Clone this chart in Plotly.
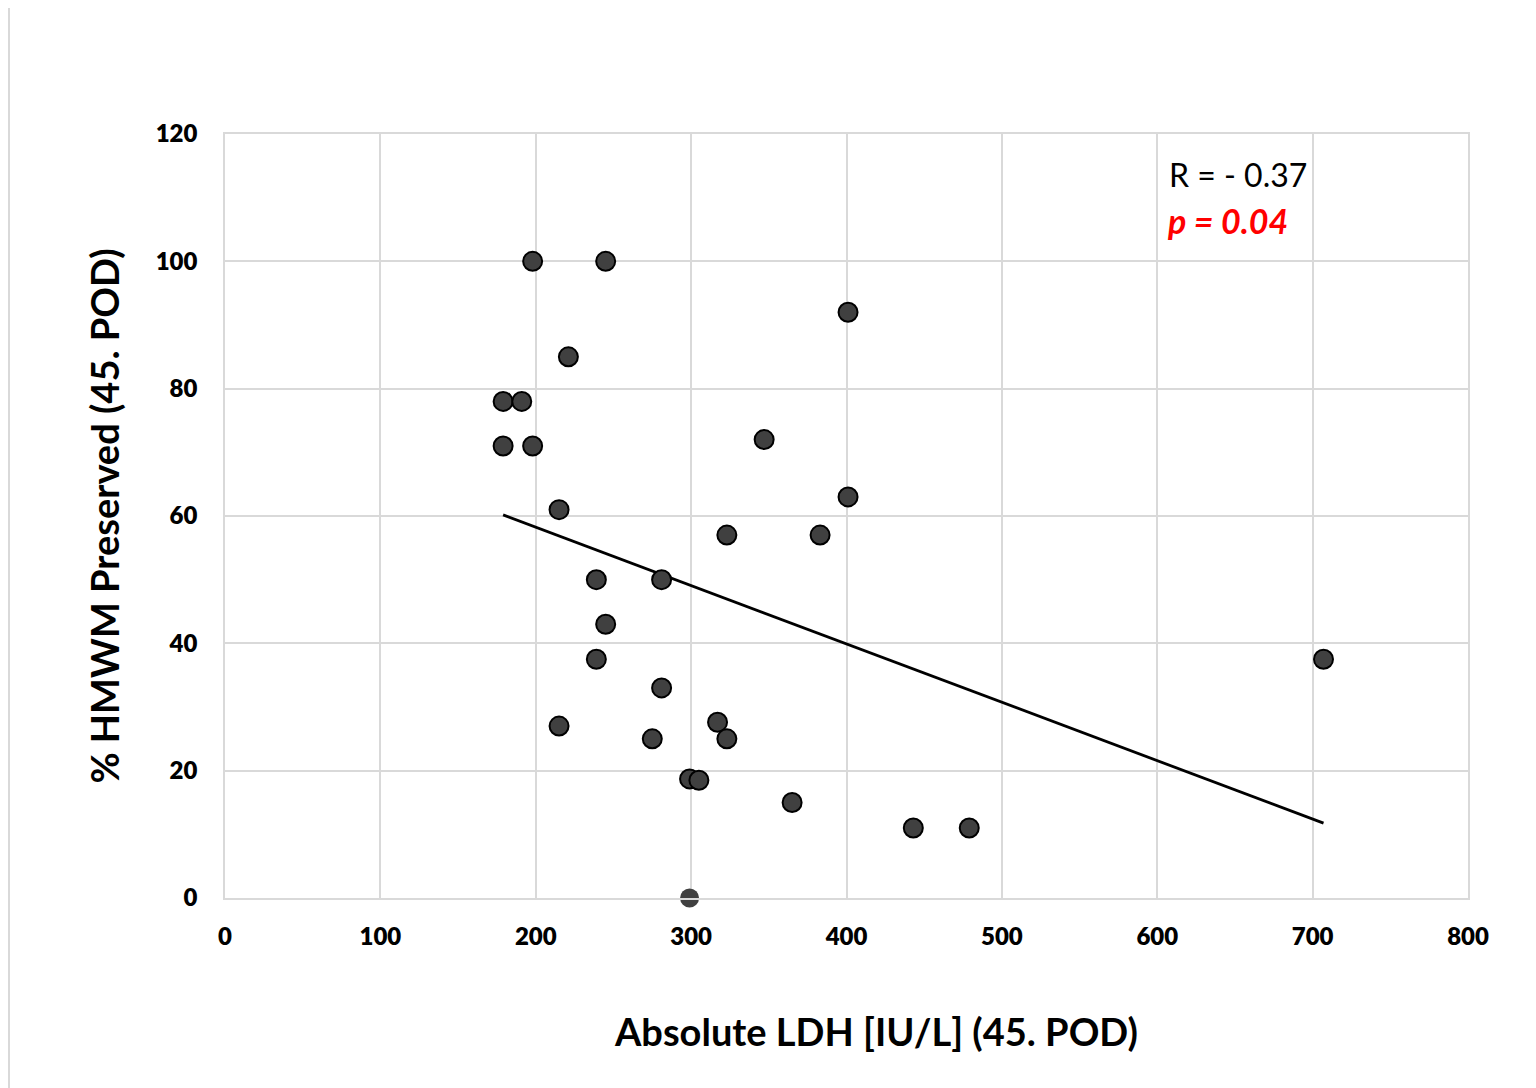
import numpy as np
import plotly.graph_objects as go

# Data
ldh = [198, 245, 401, 221, 179, 191, 179, 198, 347, 401, 215, 323, 383, 239, 281,
       245, 239, 707, 281, 215, 317, 275, 323, 299, 305, 365, 443, 479]
hmwm = [100, 100, 92, 85, 78, 78, 71, 71, 72, 63, 61, 57, 57, 50, 50,
        43, 37.5, 37.5, 33, 27, 27.6, 25, 25, 18.7, 18.5, 15, 11, 11]
# separate point drawn without outline
ldh_extra = [299]
hmwm_extra = [0]

x_ticks = [0, 100, 200, 300, 400, 500, 600, 700, 800]
y_ticks = [0, 20, 40, 60, 80, 100, 120]

r_text = "R = - 0.37"
p_text = "p = 0.04"

# Linear trend line over the data range (all points)
xa = np.array(ldh + ldh_extra, dtype=float)
ya = np.array(hmwm + hmwm_extra, dtype=float)
slope, intercept = np.polyfit(xa, ya, 1)
tx = np.array([xa.min(), xa.max()])
ty = slope * tx + intercept

FONT = "Lato"

# page offset (body margin) compensation
OFF = 8
W, H = 1536, 1088
L, R, T, B = 225 - OFF, W - 1468 + OFF, 134 - OFF, H - 898 + OFF
PW, PH = 1468 - 225, 898 - 134

fig = go.Figure()
fig.add_trace(go.Scatter(x=tx, y=ty, mode="lines",
                         line=dict(color="black", width=2.8),
                         hoverinfo="skip", showlegend=False))
fig.add_trace(go.Scatter(x=ldh, y=hmwm, mode="markers",
                         marker=dict(size=19, color="#404040",
                                     line=dict(color="black", width=2)),
                         showlegend=False))
fig.add_trace(go.Scatter(x=ldh_extra, y=hmwm_extra, mode="markers",
                         marker=dict(size=19, color="#404040",
                                     line=dict(width=0)),
                         showlegend=False, cliponaxis=False))

fig.update_layout(
    width=W, height=H,
    margin=dict(l=L, r=R, t=T, b=B),
    paper_bgcolor="white", plot_bgcolor="white",
    font=dict(family=FONT, color="black"),
    xaxis=dict(range=[0, 800], tickvals=x_ticks, showgrid=True,
               gridcolor="#d9d9d9", gridwidth=1.5, zeroline=False,
               showline=True, linecolor="#d9d9d9", linewidth=1.5, mirror=True,
               ticks="", tickfont=dict(size=24, family=FONT, color="black", weight=800),
               ticklabelstandoff=16),
    yaxis=dict(range=[0, 120], tickvals=y_ticks, showgrid=True,
               gridcolor="#d9d9d9", gridwidth=1.5, zeroline=False,
               showline=True, linecolor="#d9d9d9", linewidth=1.5, mirror=True,
               ticks="", tickfont=dict(size=24, family=FONT, color="black", weight=800),
               ticklabelstandoff=21,
               title=dict(text="<b>% HMWM Preserved (45. POD)</b>",
                          font=dict(size=38, family=FONT, color="black"),
                          standoff=24)),
)

fig.add_annotation(xref="paper", yref="paper", x=(876 - 225) / PW, y=(898 - 1031) / PH,
                   text="<b>Absolute LDH [IU/L] (45. POD)</b>", showarrow=False,
                   font=dict(size=38, family=FONT, color="black"),
                   xanchor="center", yanchor="middle")
fig.add_annotation(xref="x", yref="y", x=606, y=113.6, text=r_text, showarrow=False,
                   font=dict(size=32, family=FONT, color="black"),
                   xanchor="left", yanchor="middle")
fig.add_annotation(xref="x", yref="y", x=605, y=106.4, text="<b><i>" + p_text + "</i></b>",
                   showarrow=False, font=dict(size=34, family=FONT, color="#ff0000"),
                   xanchor="left", yanchor="middle")

# outer chart border
fig.add_shape(type="rect", xref="paper", yref="paper",
              x0=(9 - 225) / PW, x1=1.2, y0=-0.4, y1=(898 - 4) / PH,
              line=dict(color="#d9d9d9", width=2), fillcolor="rgba(0,0,0,0)", layer="below")

fig.write_html("out.html")
